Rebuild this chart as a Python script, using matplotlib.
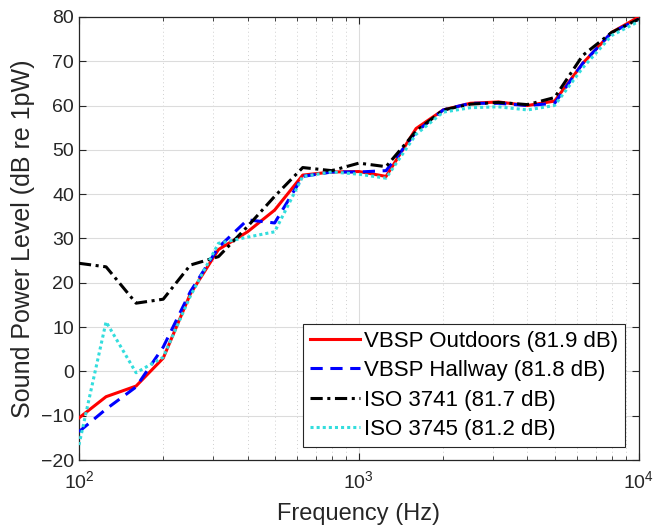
import matplotlib
matplotlib.use("Agg")
import matplotlib.pyplot as plt
from matplotlib.ticker import LogLocator, NullFormatter

freqs = [100, 125, 160, 200, 250, 315, 400, 500, 630, 800, 1000, 1250,
         1600, 2000, 2500, 3150, 4000, 5000, 6300, 8000, 10000]
vbsp_outdoors = [-10.5, -5.7, -3.3, 3.0, 17.5, 27.5, 31.5, 36.4, 44.3, 45.0, 45.1, 44.0,
                 54.8, 59.0, 60.5, 60.8, 60.0, 61.0, 69.5, 76.5, 80.0]
vbsp_hallway = [-13.6, -8.5, -3.5, 5.5, 18.0, 28.0, 34.2, 33.5, 44.0, 45.0, 45.0, 45.3,
                54.0, 59.0, 60.5, 60.5, 60.0, 60.5, 69.5, 76.5, 79.5]
iso3741 = [24.4, 23.6, 15.4, 16.3, 24.0, 25.9, 32.7, 39.5, 46.0, 45.3, 47.0, 46.2,
           54.2, 59.0, 60.3, 60.7, 60.2, 61.8, 71.3, 76.5, 79.5]
iso3745 = [-16.6, 11.2, -0.3, 3.2, 17.0, 28.9, 30.3, 31.5, 44.0, 45.0, 44.5, 43.6,
           53.5, 58.5, 59.5, 59.7, 59.0, 60.0, 68.5, 75.8, 79.0]
labels = ["VBSP Outdoors (81.9 dB)", "VBSP Hallway (81.8 dB)",
          "ISO 3741 (81.7 dB)", "ISO 3745 (81.2 dB)"]
yticks = list(range(-20, 81, 10))

plt.rcParams['font.family'] = ['Liberation Sans', 'DejaVu Sans']
fig = plt.figure(figsize=(6.69, 5.27), dpi=100)
ax = fig.add_axes([0.118, 0.127, 0.837, 0.841])

ax.plot(freqs, vbsp_outdoors, color='#ff0000', lw=2.2, ls='-', label=labels[0], zorder=3)
ax.plot(freqs, vbsp_hallway, color='#0000ff', lw=2.2, ls=(0, (4, 2.5)), label=labels[1], zorder=4)
ax.plot(freqs, iso3741, color='black', lw=2.2, ls=(0, (4, 1.5, 1, 1.5)), label=labels[2], zorder=5)
ax.plot(freqs, iso3745, color='#33dddd', lw=2.2, ls=(0, (1, 1)), label=labels[3], zorder=6)

ax.set_xscale('log')
ax.set_xlim(100, 10000)
ax.set_ylim(-20, 80)
ax.set_yticks(yticks)
ax.xaxis.set_major_locator(LogLocator(base=10, numticks=10))
ax.xaxis.set_minor_locator(LogLocator(base=10, subs=range(2, 10), numticks=10))
ax.xaxis.set_minor_formatter(NullFormatter())

ax.grid(True, which='major', color='#dcdcdc', lw=0.8, ls='-')
ax.grid(True, which='minor', axis='x', color='#cfcfcf', lw=0.7, ls=(0, (1, 3)))
ax.set_axisbelow(True)

ax.tick_params(which='both', direction='in', top=True, right=True, labelsize=14, colors='#262626')
ax.tick_params(which='major', length=5)
ax.tick_params(axis='x', which='major', pad=7)
ax.tick_params(which='minor', length=3)
for s in ax.spines.values():
    s.set_color('#262626')
    s.set_linewidth(0.9)

ax.set_xlabel('Frequency (Hz)', fontsize=17, color='#262626', labelpad=8)
ax.set_ylabel('Sound Power Level (dB re 1pW)', fontsize=18, color='#262626', labelpad=4)

leg = ax.legend(loc='lower right', bbox_to_anchor=(0.975, 0.03), fontsize=16,
                frameon=True, fancybox=False, edgecolor='#262626', framealpha=1,
                handlelength=2.25, handletextpad=0.2, borderpad=0.3, labelspacing=0.38,
                borderaxespad=0)
leg.get_frame().set_linewidth(0.8)

fig.savefig('out.png', dpi=100)
